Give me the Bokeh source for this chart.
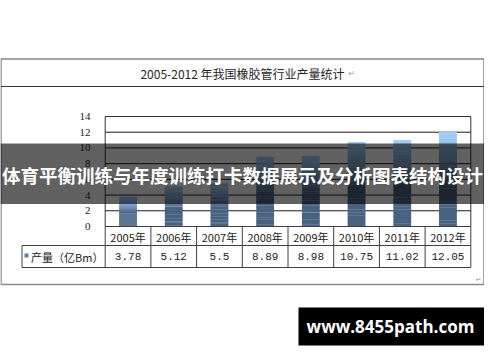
from bokeh.plotting import figure
from bokeh.models import Range1d
from bokeh.core.properties import value
from bokeh.embed import file_html
from bokeh.resources import INLINE

# ---- data ----
years = ["2005年", "2006年", "2007年", "2008年", "2009年", "2010年", "2011年", "2012年"]
output = [3.78, 5.12, 5.5, 8.89, 8.98, 10.75, 11.02, 12.05]
value_labels = ["3.78", "5.12", "5.5", "8.89", "8.98", "10.75", "11.02", "12.05"]
y_ticks = [0, 2, 4, 6, 8, 10, 12, 14]
title_text = "2005-2012 年我国橡胶管行业产量统计"
series_name = "产量（亿Bm）"
banner_text = "体育平衡训练与年度训练打卡数据展示及分析图表结构设计"
watermark_text = "www.8455path.com"

# ---- layout (page pixels) ----
OFF = 8
W, H = 484, 346
PL, PR, PT, PB = 112.7, 478.3, 124.0, 234.0
n = len(years)
col_w = (PR - PL) / n
ymax = max(y_ticks)

def xd(px):
    return (px - PL) / col_w

def yd(py):
    return (PB - py) * ymax / (PB - PT)

p = figure(width=W, height=H, output_backend="svg", toolbar_location=None,
           x_range=Range1d(xd(OFF), xd(OFF + W)),
           y_range=Range1d(yd(OFF + H), yd(OFF)),
           x_axis_location=None, y_axis_location=None,
           min_border=0, outline_line_color=None,
           background_fill_color="white", border_fill_color="white")
p.grid.visible = False
p.extra_x_ranges["px"] = Range1d(OFF, OFF + W)
p.extra_y_ranges["px"] = Range1d(OFF + H, OFF)

CJK = value("Noto Sans CJK SC")

# outer box + title row
p.quad(left=[OFF + 0.5], right=[OFF + W - 0.5], top=[66.5], bottom=[292],
       fill_color="white", line_color="#8a8a8a", line_width=1.5,
       x_range_name="px", y_range_name="px")
p.segment(x0=[OFF + 0.5], x1=[OFF + W - 0.5], y0=[94], y1=[94], line_color="#333333",
          line_width=1, x_range_name="px", y_range_name="px")
p.text(x=[250], y=[80.5], text=[title_text], text_font=CJK, text_font_size="12px",
       text_color="#262626", text_align="center", text_baseline="middle",
       x_range_name="px", y_range_name="px")
p.text(x=[356], y=[81], text=["↵"], text_font=value("DejaVu Sans"), text_font_size="8px",
       text_color="#999999", text_align="left", text_baseline="middle",
       x_range_name="px", y_range_name="px")
p.text(x=[486], y=[287], text=["↵"], text_font=value("DejaVu Sans"), text_font_size="7px",
       text_color="#999999", text_align="center", text_baseline="middle",
       x_range_name="px", y_range_name="px")

# gridlines
p.segment(x0=[0] * len(y_ticks), x1=[n] * len(y_ticks), y0=y_ticks, y1=y_ticks,
          line_color="#1a1a1a", line_width=1)
# plot area border
p.quad(left=[0], right=[n], bottom=[0], top=[ymax], fill_color=None,
       line_color="#333333", line_width=1)

# y tick labels
p.text(x=[98] * len(y_ticks), y=y_ticks, text=[str(t) for t in y_ticks],
       text_font=value("Liberation Serif"), text_font_size="11px", text_color="#222222",
       text_align="right", text_baseline="middle", x_range_name="px")

# bars with vertical gradient (slices derived from the values)
light = (160, 206, 250)
dark = (72, 98, 130)
N = 30
bw = 0.39
L, R, T, B, C = [], [], [], [], []
for i, v in enumerate(output):
    for k in range(N):
        t = (k + 0.5) / N
        s = min(1.0, t / 0.55) ** 1.3
        col = tuple(int(round(light[j] + (dark[j] - light[j]) * s)) for j in range(3))
        top = v * (1 - k / N)
        bot = v * (1 - (k + 1) / N)
        if k < N - 1:
            bot -= 0.03
        L.append(i + 0.5 - bw / 2)
        R.append(i + 0.5 + bw / 2)
        T.append(top)
        B.append(max(0, bot))
        C.append("#%02x%02x%02x" % col)
p.quad(left=L, right=R, top=T, bottom=B, fill_color=C, line_color=None)

# data table
row1_b, row2_b = 253.0, 275.0
leg_l = 29.5
p.segment(x0=[0, xd(leg_l), xd(leg_l)], x1=[n, n, n], y0=[PB, row1_b, row2_b],
          y1=[PB, row1_b, row2_b], line_color="#404040", line_width=1, y_range_name="px")
p.segment(x0=list(range(n + 1)), x1=list(range(n + 1)), y0=[PB] * (n + 1),
          y1=[row2_b] * (n + 1), line_color="#404040", line_width=1, y_range_name="px")
p.segment(x0=[xd(leg_l)], x1=[xd(leg_l)], y0=[row1_b], y1=[row2_b],
          line_color="#404040", line_width=1, y_range_name="px")
p.text(x=[i + 0.5 for i in range(n)], y=[(PB + row1_b) / 2 + 0.5] * n, text=years,
       text_font=CJK, text_font_size="11px", text_color="#222222",
       text_align="center", text_baseline="middle", y_range_name="px")
p.text(x=[i + 0.5 for i in range(n)], y=[(row1_b + row2_b) / 2] * n, text=value_labels,
       text_font=value("Liberation Mono"), text_font_size="11px", text_color="#222222",
       text_align="center", text_baseline="middle", y_range_name="px")
p.quad(left=[32], right=[36], top=[261], bottom=[265], fill_color="#4f81bd",
       line_color=None, x_range_name="px", y_range_name="px")
p.text(x=[38.5], y=[264], text=[series_name], text_font=CJK, text_font_size="11px",
       text_color="#222222", text_align="left", text_baseline="middle",
       x_range_name="px", y_range_name="px")

# overlay banner
p.quad(left=[OFF], right=[OFF + W], top=[151], bottom=[211.5], fill_color="black",
       fill_alpha=0.62, line_color=None, x_range_name="px", y_range_name="px")
p.text(x=[250], y=[182], text=[banner_text], text_font=CJK, text_font_size="18.5px",
       text_font_style="bold", text_color="white", text_align="center",
       text_baseline="middle", x_range_name="px", y_range_name="px")

# watermark
p.quad(left=[306], right=[492], top=[315], bottom=[353], fill_color="black",
       line_color=None, x_range_name="px", y_range_name="px")
p.text(x=[398], y=[334], text=[watermark_text], text_font=value("Open Sans"),
       text_font_size="17px", text_font_style="bold", text_color="white",
       text_align="center", text_baseline="middle", x_range_name="px", y_range_name="px")

open("out.html", "w").write(file_html(p, INLINE))
